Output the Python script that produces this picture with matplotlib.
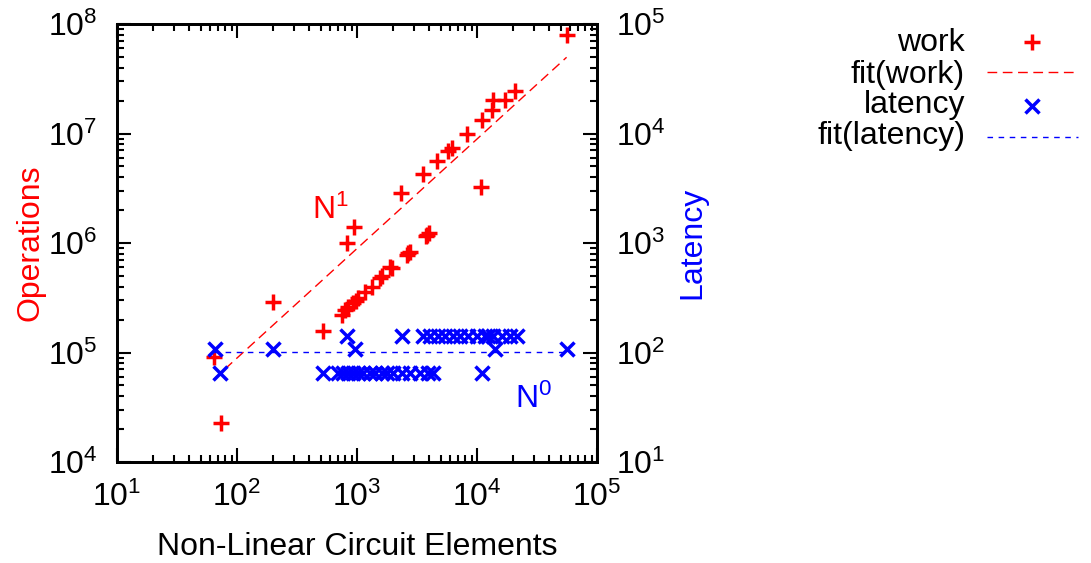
import numpy as np
import matplotlib
matplotlib.use("Agg")
import matplotlib.pyplot as plt
from matplotlib.lines import Line2D

plt.rcParams['font.family'] = ['Liberation Sans', 'DejaVu Sans']
plt.rcParams['mathtext.fontset'] = 'custom'
plt.rcParams['mathtext.rm'] = 'Liberation Sans'
plt.rcParams['mathtext.it'] = 'Liberation Sans:italic'
plt.rcParams['mathtext.bf'] = 'Liberation Sans:bold'

# ---- data ----
work_x = [55800, 20700, 17100, 13700, 13240, 10940, 8200, 6150, 5770, 4670,
          3520, 2330, 10800, 950, 820, 3855, 3980, 3760, 2680, 2750, 2620,
          1880, 1945, 1556, 1620, 1324, 1175, 1026, 977, 931, 847, 794, 745,
          524, 201, 64.3, 73.1]
work_y = [7.94e7, 2.46e7, 2.02e7, 2.02e7, 1.64e7, 1.33e7, 9.9e6, 7.3e6, 6.97e6,
          5.65e6, 4.27e6, 2.84e6, 3.27e6, 1.39e6, 1.0e6, 1.18e6, 1.23e6, 1.15e6,
          8.05e5, 8.3e5, 7.85e5, 6.08e5, 5.87e5, 4.76e5, 5.0e5, 3.99e5, 3.55e5,
          3.13e5, 2.95e5, 2.81e5, 2.62e5, 2.45e5, 2.2e5, 1.58e5, 2.91e5, 9.16e4,
          2.25e4]

lat_x = [65.6, 72, 201, 820, 962, 524,
         698, 769, 847, 931, 1026, 1130, 1282, 1413, 1607, 1766, 2009, 2355,
         2767, 3350, 3926, 4325,
         2355, 3573, 4055, 4764, 5408, 6353, 7211, 8472, 9931, 11670, 12420,
         13680, 16070, 18840, 21430,
         14100, 10940, 55800]
lat_y = [107, 65, 107, 142, 107, 65,
         65, 65, 65, 65, 65, 65, 65, 65, 65, 65, 65, 65, 65, 65, 65, 65,
         142, 142, 142, 142, 142, 142, 142, 142, 142, 142, 142, 142, 142, 142, 142,
         107, 65, 107]

fit_work_coef = 890.0
fit_work_exp = 1.0
fit_lat_const = 101.0
fit_range = [64.0, 55800.0]

labels = ['work', 'fit(work)', 'latency', 'fit(latency)']
RED = '#ff0000'
BLUE = '#0000ff'
FS = 23
MS = 11
MEW = 2.5

fig = plt.figure(figsize=(10.91, 5.63), dpi=100)
ax = fig.add_axes([117/1091, 1-462/563, (597-117)/1091, (462-24)/563])
ax2 = ax.twinx()

ax.set_xscale('log')
ax.set_yscale('log')
ax2.set_yscale('log')
ax.set_xlim(10, 1e5)
ax.set_ylim(1e4, 1e8)
ax2.set_ylim(10, 1e5)

fx = np.array(fit_range)
ax.plot(fx, fit_work_coef * fx ** fit_work_exp, color=RED, lw=1.0,
        dashes=(7, 4))
ax.plot(work_x, work_y, linestyle='none', marker='+', ms=MS, mew=MEW, color=RED)

ax2.plot(fx, [fit_lat_const] * len(fx), color=BLUE, lw=1.0, dashes=(4, 4))
ax2.plot(lat_x, lat_y, linestyle='none', marker='x', ms=MS - 1, mew=MEW, color=BLUE)

for a in (ax, ax2):
    for s in a.spines.values():
        s.set_linewidth(2)
ax.tick_params(axis='both', which='major', direction='in', length=10, width=1.5,
               labelsize=FS, top=True, right=False)
ax.tick_params(axis='both', which='minor', direction='in', length=5, width=1.5,
               top=True, right=False)
ax.tick_params(axis='y', pad=14)
ax.tick_params(axis='x', pad=14)
ax2.tick_params(axis='y', which='major', direction='in', length=10, width=1.5,
                labelsize=FS, right=True, left=False, pad=14)
ax2.tick_params(axis='y', which='minor', direction='in', length=5, width=1.5,
                right=True, left=False)

ax.set_xlabel('Non-Linear Circuit Elements', fontsize=FS, labelpad=14)
ax.set_ylabel('Operations', fontsize=FS, color=RED, labelpad=2)
ax2.set_ylabel('Latency', fontsize=FS, color=BLUE, labelpad=8)

ax.text(419, 1.646e6, r'N$^{1}$', color=RED, fontsize=FS, ha='left', va='baseline')
ax.text(20700, 3.09e4, r'N$^{0}$', color=BLUE, fontsize=FS, ha='left', va='baseline')

# legend (drawn manually in figure coordinates, gnuplot style)
W, H = 1091.0, 563.0
baselines = [50.7, 82.7, 113.3, 144.0]
handle_y = [41.7, 72.3, 106.0, 136.7]
for lab, yb in zip(labels, baselines):
    fig.text(965 / W, 1 - yb / H, lab, fontsize=FS, ha='right', va='baseline')
fig.add_artist(Line2D([1032 / W], [1 - handle_y[0] / H], marker='+', ms=MS, mew=MEW,
                      color=RED, linestyle='none', transform=fig.transFigure))
fig.add_artist(Line2D([987 / W, 1078 / W], [1 - handle_y[1] / H] * 2, color=RED,
                      lw=1.0, dashes=(7, 4), transform=fig.transFigure))
fig.add_artist(Line2D([1032 / W], [1 - handle_y[2] / H], marker='x', ms=MS - 1, mew=MEW,
                      color=BLUE, linestyle='none', transform=fig.transFigure))
fig.add_artist(Line2D([987 / W, 1078 / W], [1 - handle_y[3] / H] * 2, color=BLUE,
                      lw=1.0, dashes=(4, 4), transform=fig.transFigure))

fig.savefig('out.png', dpi=100)
